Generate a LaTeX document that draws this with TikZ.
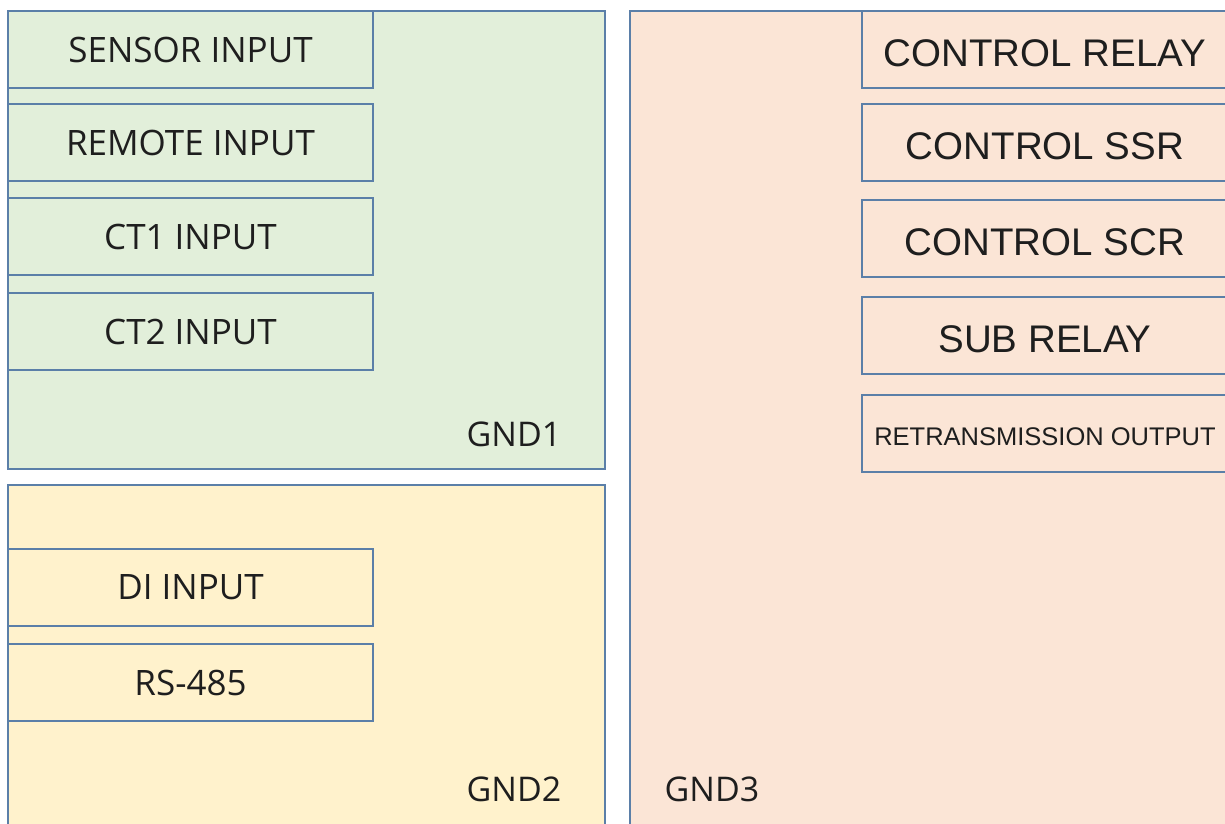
\documentclass[tikz,border=0pt]{standalone}
\usepackage{fontspec}
\setmainfont{Open Sans}
\newfontfamily\arialf{Liberation Sans}
\definecolor{gA}{HTML}{E2EFDA}
\definecolor{yB}{HTML}{FFF2CC}
\definecolor{pC}{HTML}{FBE5D6}
\definecolor{edge}{HTML}{5B7FA8}
\definecolor{ink}{HTML}{1E1E1E}
\tikzset{
  grp/.style={draw=edge, line width=1.8pt, anchor=north west, inner sep=0pt, outer sep=0pt},
  lbox/.style={draw=edge, line width=1.8pt, anchor=north west, minimum width=365pt, minimum height=77pt, inner sep=0pt, outer sep=0pt, text=ink, font=\fontsize{35}{40}\selectfont},
  rbox/.style={draw=edge, line width=1.8pt, anchor=north west, minimum width=366pt, minimum height=77pt, inner sep=0pt, outer sep=0pt, text=ink, font=\arialf\fontsize{38.5}{42}\selectfont, text height=33.6pt, text depth=0pt},
  gnd/.style={text=ink, inner sep=0pt, font=\fontsize{34}{40}\selectfont},
}
\begin{document}
\begin{tikzpicture}[x=1pt,y=-1pt]
\useasboundingbox (0,0) rectangle (1225,823);
\fill[white] (0,0) rectangle (1225,823);
% group boxes
\node[grp, fill=gA, minimum width=597pt, minimum height=458pt] (g1) at (8,11) {};
\node[grp, fill=yB, minimum width=597pt, minimum height=360pt] (g2) at (8,485) {};
\node[grp, fill=pC, minimum width=620pt, minimum height=840pt] (g3) at (630,11) {};
% GND1 items
\node[lbox, fill=gA] (sensor) at (8,11) {SENSOR INPUT};
\node[lbox, fill=gA] (remote) at (8,104) {REMOTE INPUT};
\node[lbox, fill=gA] (ct1) at (8,198) {CT1 INPUT};
\node[lbox, fill=gA] (ct2) at (8,293) {CT2 INPUT};
\node[gnd] (l1) at (514,434) {GND1};
% GND2 items
\node[lbox, fill=yB] (di) at (8,549) {DI INPUT};
\node[lbox, fill=yB] (rs) at (8,644) {RS-485};
\node[gnd] (l2) at (514,789) {GND2};
% GND3 items
\node[rbox, fill=pC] (crelay) at (862,11) {CONTROL RELAY};
\node[rbox, fill=pC] (cssr) at (862,104) {CONTROL SSR};
\node[rbox, fill=pC] (cscr) at (862,200) {CONTROL SCR};
\node[rbox, fill=pC] (sub) at (862,297) {SUB RELAY};
\node[rbox, fill=pC, font=\arialf\fontsize{25.5}{30}\selectfont, text height=23.3pt, text depth=0pt] (retr) at (862,395) {RETRANSMISSION OUTPUT};
\node[gnd] (l3) at (712,789) {GND3};
\end{tikzpicture}
\end{document}
